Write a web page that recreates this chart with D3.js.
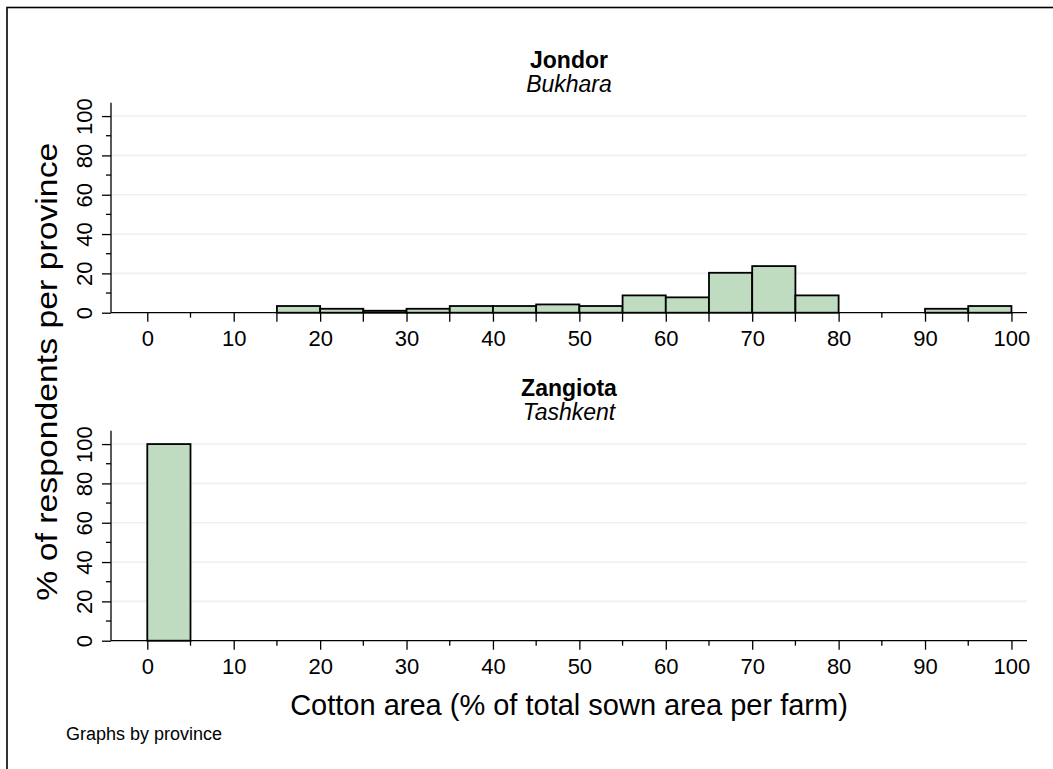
<!DOCTYPE html>
<html>
<head>
<meta charset="utf-8">
<script src="https://cdn.jsdelivr.net/npm/d3@7"></script>
<style>
  body { margin: 0; background: #fff; }
  svg { display: block; font-family: "Liberation Sans", Arial, sans-serif; }
</style>
</head>
<body>
<div id="chart"></div>
<script>
/* DATA */
const binStarts = [0, 5, 10, 15, 20, 25, 30, 35, 40, 45, 50, 55, 60, 65, 70, 75, 80, 85, 90, 95];
const binWidth = 5;
const districts = ["Jondor", "Zangiota"];
const provinces = ["Bukhara", "Tashkent"];
const jondorPct = [0, 0, 0, 3.4, 2.0, 1.0, 2.0, 3.4, 3.4, 4.2, 3.4, 8.8, 7.8, 20.3, 23.7, 8.8, 0, 0, 2.0, 3.4];
const zangiotaPct = [100, 0, 0, 0, 0, 0, 0, 0, 0, 0, 0, 0, 0, 0, 0, 0, 0, 0, 0, 0];
const xTicks = [0, 10, 20, 30, 40, 50, 60, 70, 80, 90, 100];
const xMinorTicks = [5, 15, 25, 35, 45, 55, 65, 75, 85, 95];
const yTicks = [0, 20, 40, 60, 80, 100];
const yMinorTicks = [10, 30, 50, 70, 90];
const yTitle = "% of respondents per province";
const xTitle = "Cotton area (% of total sown area per farm)";
const note = "Graphs by province";

const W = 1053, H = 769;
const plotLeft = 111, plotRight = 1027;
const panelTops = [102.7, 430.7];   // top of y axis line
const panelBottoms = [312.7, 640.7]; // y = 0
const barFill = "#c0dcc0";
const gridColor = "#eaf2f3";

const svg = d3.select("#chart").append("svg")
  .attr("width", W)
  .attr("height", H);

// outer frame (runs off the right and bottom edge)
svg.append("rect")
  .attr("x", 7).attr("y", 7.5)
  .attr("width", W + 20).attr("height", H + 20)
  .attr("fill", "none")
  .attr("stroke", "#000")
  .attr("stroke-width", 1.6);

const x = d3.scaleLinear().domain([-4.2, 101.8]).range([plotLeft, plotRight]);

const panelData = [jondorPct, zangiotaPct];

panelData.forEach((vals, p) => {
  const y = d3.scaleLinear().domain([0, 106.8]).range([panelBottoms[p], panelTops[p]]);
  const g = svg.append("g");

  // gridlines
  g.selectAll("line.grid")
    .data(yTicks.filter(d => d > 0))
    .join("line")
    .attr("class", "grid")
    .attr("x1", plotLeft).attr("x2", plotRight)
    .attr("y1", d => y(d)).attr("y2", d => y(d))
    .attr("stroke", gridColor)
    .attr("stroke-width", 1.6);

  // bars
  const bins = binStarts.map((b, i) => ({ x0: b, x1: b + binWidth, v: vals[i] }));
  g.selectAll("rect.bar")
    .data(bins.filter(d => d.v > 0))
    .join("rect")
    .attr("class", "bar")
    .attr("x", d => x(d.x0))
    .attr("width", d => x(d.x1) - x(d.x0))
    .attr("y", d => y(d.v))
    .attr("height", d => y(0) - y(d.v))
    .attr("fill", barFill)
    .attr("stroke", "#000")
    .attr("stroke-width", 1.8);

  // y axis
  const yAxis = d3.axisLeft(y).tickValues(yTicks).tickSize(9).tickPadding(0).tickFormat(d => d);
  const ya = g.append("g")
    .attr("transform", `translate(${plotLeft},0)`)
    .call(yAxis);
  ya.select(".domain").remove();
  ya.append("line")
    .attr("x1", 0).attr("x2", 0)
    .attr("y1", y.range()[0]).attr("y2", y.range()[1])
    .attr("stroke", "#000").attr("stroke-width", 1.3);
  ya.selectAll(".tick line").attr("stroke", "#000").attr("stroke-width", 1.3);
  ya.selectAll(".tick text")
    .attr("x", 0).attr("y", 0).attr("dy", 0)
    .attr("transform", "translate(-19,0) rotate(-90)")
    .attr("text-anchor", "middle")
    .attr("font-size", 22)
    .attr("fill", "#000");
  ya.selectAll("line.minor")
    .data(yMinorTicks)
    .join("line")
    .attr("class", "minor")
    .attr("x1", -5).attr("x2", 0)
    .attr("y1", d => y(d)).attr("y2", d => y(d))
    .attr("stroke", "#000").attr("stroke-width", 1.3);

  // x axis
  const xAxis = d3.axisBottom(x).tickValues(xTicks).tickSize(9).tickPadding(0).tickFormat(d => d);
  const xa = g.append("g")
    .attr("transform", `translate(0,${panelBottoms[p]})`)
    .call(xAxis);
  xa.select(".domain").remove();
  xa.append("line")
    .attr("x1", plotLeft).attr("x2", plotRight)
    .attr("y1", 0).attr("y2", 0)
    .attr("stroke", "#000").attr("stroke-width", 1.3);
  xa.selectAll(".tick line").attr("stroke", "#000").attr("stroke-width", 1.3);
  xa.selectAll(".tick text")
    .attr("y", 33).attr("dy", 0)
    .attr("font-size", 22)
    .attr("fill", "#000");
  // minor ticks come out longer where a bar starts at them
  const barAt = d => vals[binStarts.indexOf(d)] > 0;
  xa.selectAll("line.minor")
    .data(xMinorTicks)
    .join("line")
    .attr("class", "minor")
    .attr("x1", d => x(d)).attr("x2", d => x(d))
    .attr("y1", 0).attr("y2", d => (p === 0 && barAt(d)) ? 9 : 5)
    .attr("stroke", "#000").attr("stroke-width", 1.3);

  // panel titles
  const cx = (plotLeft + plotRight) / 2;
  g.append("text")
    .attr("x", cx).attr("y", panelTops[p] - 34.5)
    .attr("text-anchor", "middle")
    .attr("font-size", 23)
    .attr("font-weight", "bold")
    .text(districts[p]);
  g.append("text")
    .attr("x", cx).attr("y", panelTops[p] - 11)
    .attr("text-anchor", "middle")
    .attr("font-size", 23)
    .attr("font-style", "italic")
    .text(provinces[p]);
});

// axis titles
svg.append("text")
  .attr("transform", `translate(57,${(panelTops[0] + panelBottoms[1]) / 2}) rotate(-90)`)
  .attr("text-anchor", "middle")
  .attr("font-size", 29)
  .attr("textLength", 458)
  .attr("lengthAdjust", "spacingAndGlyphs")
  .text(yTitle);

svg.append("text")
  .attr("x", (plotLeft + plotRight) / 2)
  .attr("y", 715)
  .attr("text-anchor", "middle")
  .attr("font-size", 29)
  .text(xTitle);

svg.append("text")
  .attr("x", 66)
  .attr("y", 740)
  .attr("font-size", 18)
  .text(note);
</script>
</body>
</html>
